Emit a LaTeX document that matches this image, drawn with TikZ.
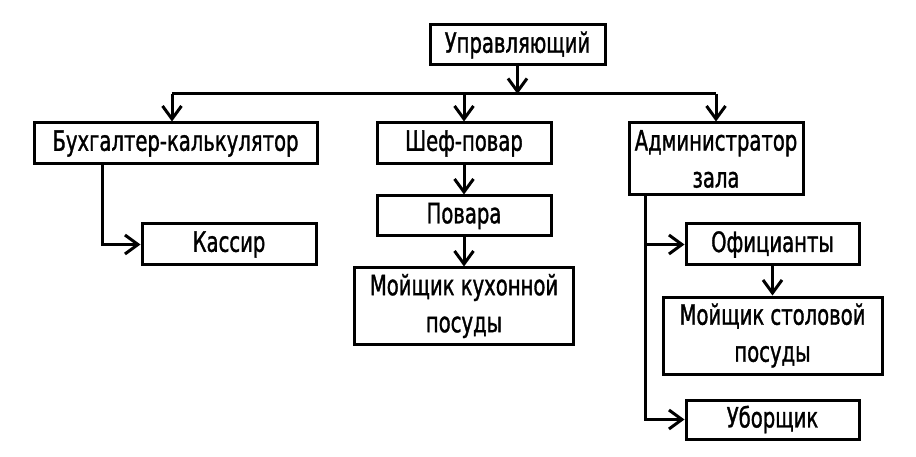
\documentclass[tikz,border=0pt]{standalone}
\usepackage{fontspec}
\setmainfont{DejaVu Sans}[FakeStretch=0.7,FakeBold=1.2]
\usepackage{tikz}
\usetikzlibrary{positioning,arrows.meta}

\begin{document}
\begin{tikzpicture}[
  x=1pt, y=-1pt,
  font=\fontsize{28}{37}\selectfont,
  post/.style={rectangle, draw=black, line width=3pt, align=center,
               inner sep=0pt, minimum width=174pt, minimum height=41pt,
               fill=white},
  wide/.style={post, minimum width=219pt, minimum height=76pt},
  arr/.style={-{Straight Barb[length=13pt,width=19pt]}, line width=3pt},
  lin/.style={line width=3pt}
]
\useasboundingbox[fill=white] (0,0) rectangle (916,457);
% top level
\node[post, minimum width=175pt, minimum height=40pt] (boss) at (517.5,45) {Управляющий};
\node[post, minimum width=283pt] (acct) at (175.5,143.5) {Бухгалтер-калькулятор};
\node[post] (chef) at (464,143.5) {Шеф-повар};
\node[post, minimum height=72pt] (admin) at (716,159) {Администратор\\зала};
% kitchen
\node[post, minimum height=40pt, below=29pt of chef] (cooks) {Повара};
\node[wide, below=29pt of cooks] (kwash) {Мойщик кухонной\\посуды};
% accounts
\node[post] (cash) at (229,244.5) {Кассир};
% hall
\node[post, minimum width=173pt] (waiters) at (772.5,244.5) {Официанты};
\node[wide, minimum height=77pt, below=29pt of waiters] (twash) {Мойщик столовой\\посуды};
\node[post, minimum width=173pt, minimum height=39pt] (clean) at (772.5,419.5) {Уборщик};
% bus
\coordinate (busL) at (172,94);
\coordinate (busR) at (716,94);
\draw[lin] (busL) -- (busR);
\draw[arr] (boss.south) -- (boss.south |- busL);
\draw[arr] (busL) -- (busL |- acct.north);
\draw[arr] (chef.north |- busL) -- (chef.north);
\draw[arr] (busR) -- (admin.north);
\draw[arr] ([xshift=-73.5pt]acct.south) |- (cash.west);
\draw[arr] (chef.south) -- (cooks.north);
\draw[arr] (cooks.south) -- (cooks.south |- kwash.north);
\draw[arr] ([xshift=-71pt]admin.south) |- (waiters.west);
\draw[arr] ([xshift=-71pt]admin.south) |- (clean.west);
\draw[arr] (waiters.south) -- (twash.north);
\end{tikzpicture}
\end{document}
